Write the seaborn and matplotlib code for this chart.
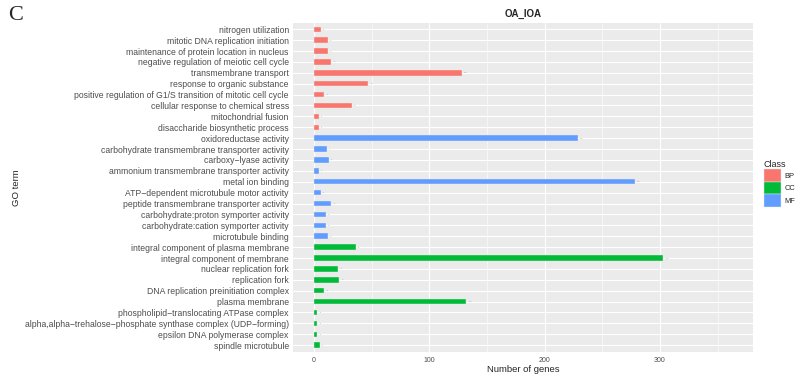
import pandas as pd
import matplotlib
matplotlib.use("Agg")
import matplotlib.pyplot as plt
import seaborn as sns
from matplotlib.patches import Patch
from matplotlib.ticker import MultipleLocator

sns.set_style("darkgrid")
plt.rcParams['font.family'] = ['Liberation Sans', 'DejaVu Sans']

# GO terms, top to bottom
bp_terms = ['nitrogen utilization', 'mitotic DNA replication initiation',
            'maintenance of protein location in nucleus',
            'negative regulation of meiotic cell cycle', 'transmembrane transport',
            'response to organic substance',
            'positive regulation of G1/S transition of mitotic cell cycle',
            'cellular response to chemical stress', 'mitochondrial fusion',
            'disaccharide biosynthetic process']
bp_counts = [6, 12, 12, 15, 128, 47, 9, 33, 4, 4]

mf_terms = ['oxidoreductase activity', 'carbohydrate transmembrane transporter activity',
            'carboxy\u2212lyase activity', 'ammonium transmembrane transporter activity',
            'metal ion binding', 'ATP\u2212dependent microtubule motor activity',
            'peptide transmembrane transporter activity',
            'carbohydrate:proton symporter activity',
            'carbohydrate:cation symporter activity', 'microtubule binding']
mf_counts = [229, 11, 13, 4, 278, 6, 15, 10, 10, 12]

cc_terms = ['integral component of plasma membrane', 'integral component of membrane',
            'nuclear replication fork', 'replication fork',
            'DNA replication preinitiation complex', 'plasma membrane',
            'phospholipid\u2212translocating ATPase complex',
            'alpha,alpha\u2212trehalose\u2212phosphate synthase complex (UDP\u2212forming)',
            'epsilon DNA polymerase complex', 'spindle microtubule']
cc_counts = [36, 303, 21, 22, 9, 132, 3, 3, 3, 5]

classes = ['BP', 'CC', 'MF']
class_colors = {'BP': '#F8766D', 'CC': '#00BA38', 'MF': '#619CFF'}

df = pd.concat([
    pd.DataFrame({'term': bp_terms, 'count': bp_counts, 'Class': 'BP'}),
    pd.DataFrame({'term': mf_terms, 'count': mf_counts, 'Class': 'MF'}),
    pd.DataFrame({'term': cc_terms, 'count': cc_counts, 'Class': 'CC'}),
], ignore_index=True)

fig = plt.figure(figsize=(7.97, 3.8), dpi=100)
ax = fig.add_axes([293 / 797, 1 - 351.7 / 380, 460 / 797, 329 / 380])
ax.set_facecolor('#EBEBEB')

sns.barplot(data=df, x='count', y='term', hue='Class', hue_order=classes,
            palette=class_colors, order=df['term'], dodge=False, width=0.5,
            orient='h', ax=ax, legend=False, saturation=1,
            edgecolor='#EBEBEB', linewidth=0.3)

# tiny value labels next to bars
for i, row in df.iterrows():
    ax.text(row['count'] + 2, i, str(row['count']), fontsize=1.5,
            color='#999999', va='center', ha='left')

ax.set_xlim(-18.2, 380.7)
ax.set_ylim(len(df) - 0.4, -0.6)
ax.xaxis.set_major_locator(MultipleLocator(100))
ax.xaxis.set_minor_locator(MultipleLocator(50))
ax.grid(which='major', color='white', linewidth=0.8)
ax.grid(which='minor', axis='x', color='white', linewidth=0.4)
ax.set_axisbelow(True)
for s in ax.spines.values():
    s.set_visible(False)

ax.tick_params(axis='y', labelsize=6.25, labelcolor='#4D4D4D', length=2,
               width=0.5, color='#333333', pad=1)
ax.tick_params(axis='x', labelsize=5, labelcolor='#4D4D4D', length=2,
               width=0.5, color='#333333', pad=1.5)
ax.tick_params(axis='x', which='minor', length=0)

ax.set_xlabel('Number of genes', fontsize=6.8, labelpad=1)
ax.set_ylabel('GO term', fontsize=6.8)
ax.yaxis.set_label_coords(-272 / 460, 0.5)
ax.set_title('OA_IOA', fontsize=7, fontweight='bold', pad=4)

handles = [Patch(facecolor=class_colors[c], edgecolor='#EBEBEB', linewidth=0.3)
           for c in classes]
leg = ax.legend(handles, classes, title='Class', loc='upper left',
                bbox_to_anchor=(764 / 797, 1 - 160 / 380),
                bbox_transform=fig.transFigure, frameon=False,
                fontsize=5.4, title_fontsize=6.5, handlelength=2.2,
                handleheight=2.2, labelspacing=0, handletextpad=0.5,
                borderpad=0, borderaxespad=0)
leg._legend_box.align = 'left'

fig.text(8 / 797, 1 - 15 / 380, 'C', fontsize=16, family='Liberation Serif',
         va='center', ha='left')

fig.savefig('out.png', dpi=100)
